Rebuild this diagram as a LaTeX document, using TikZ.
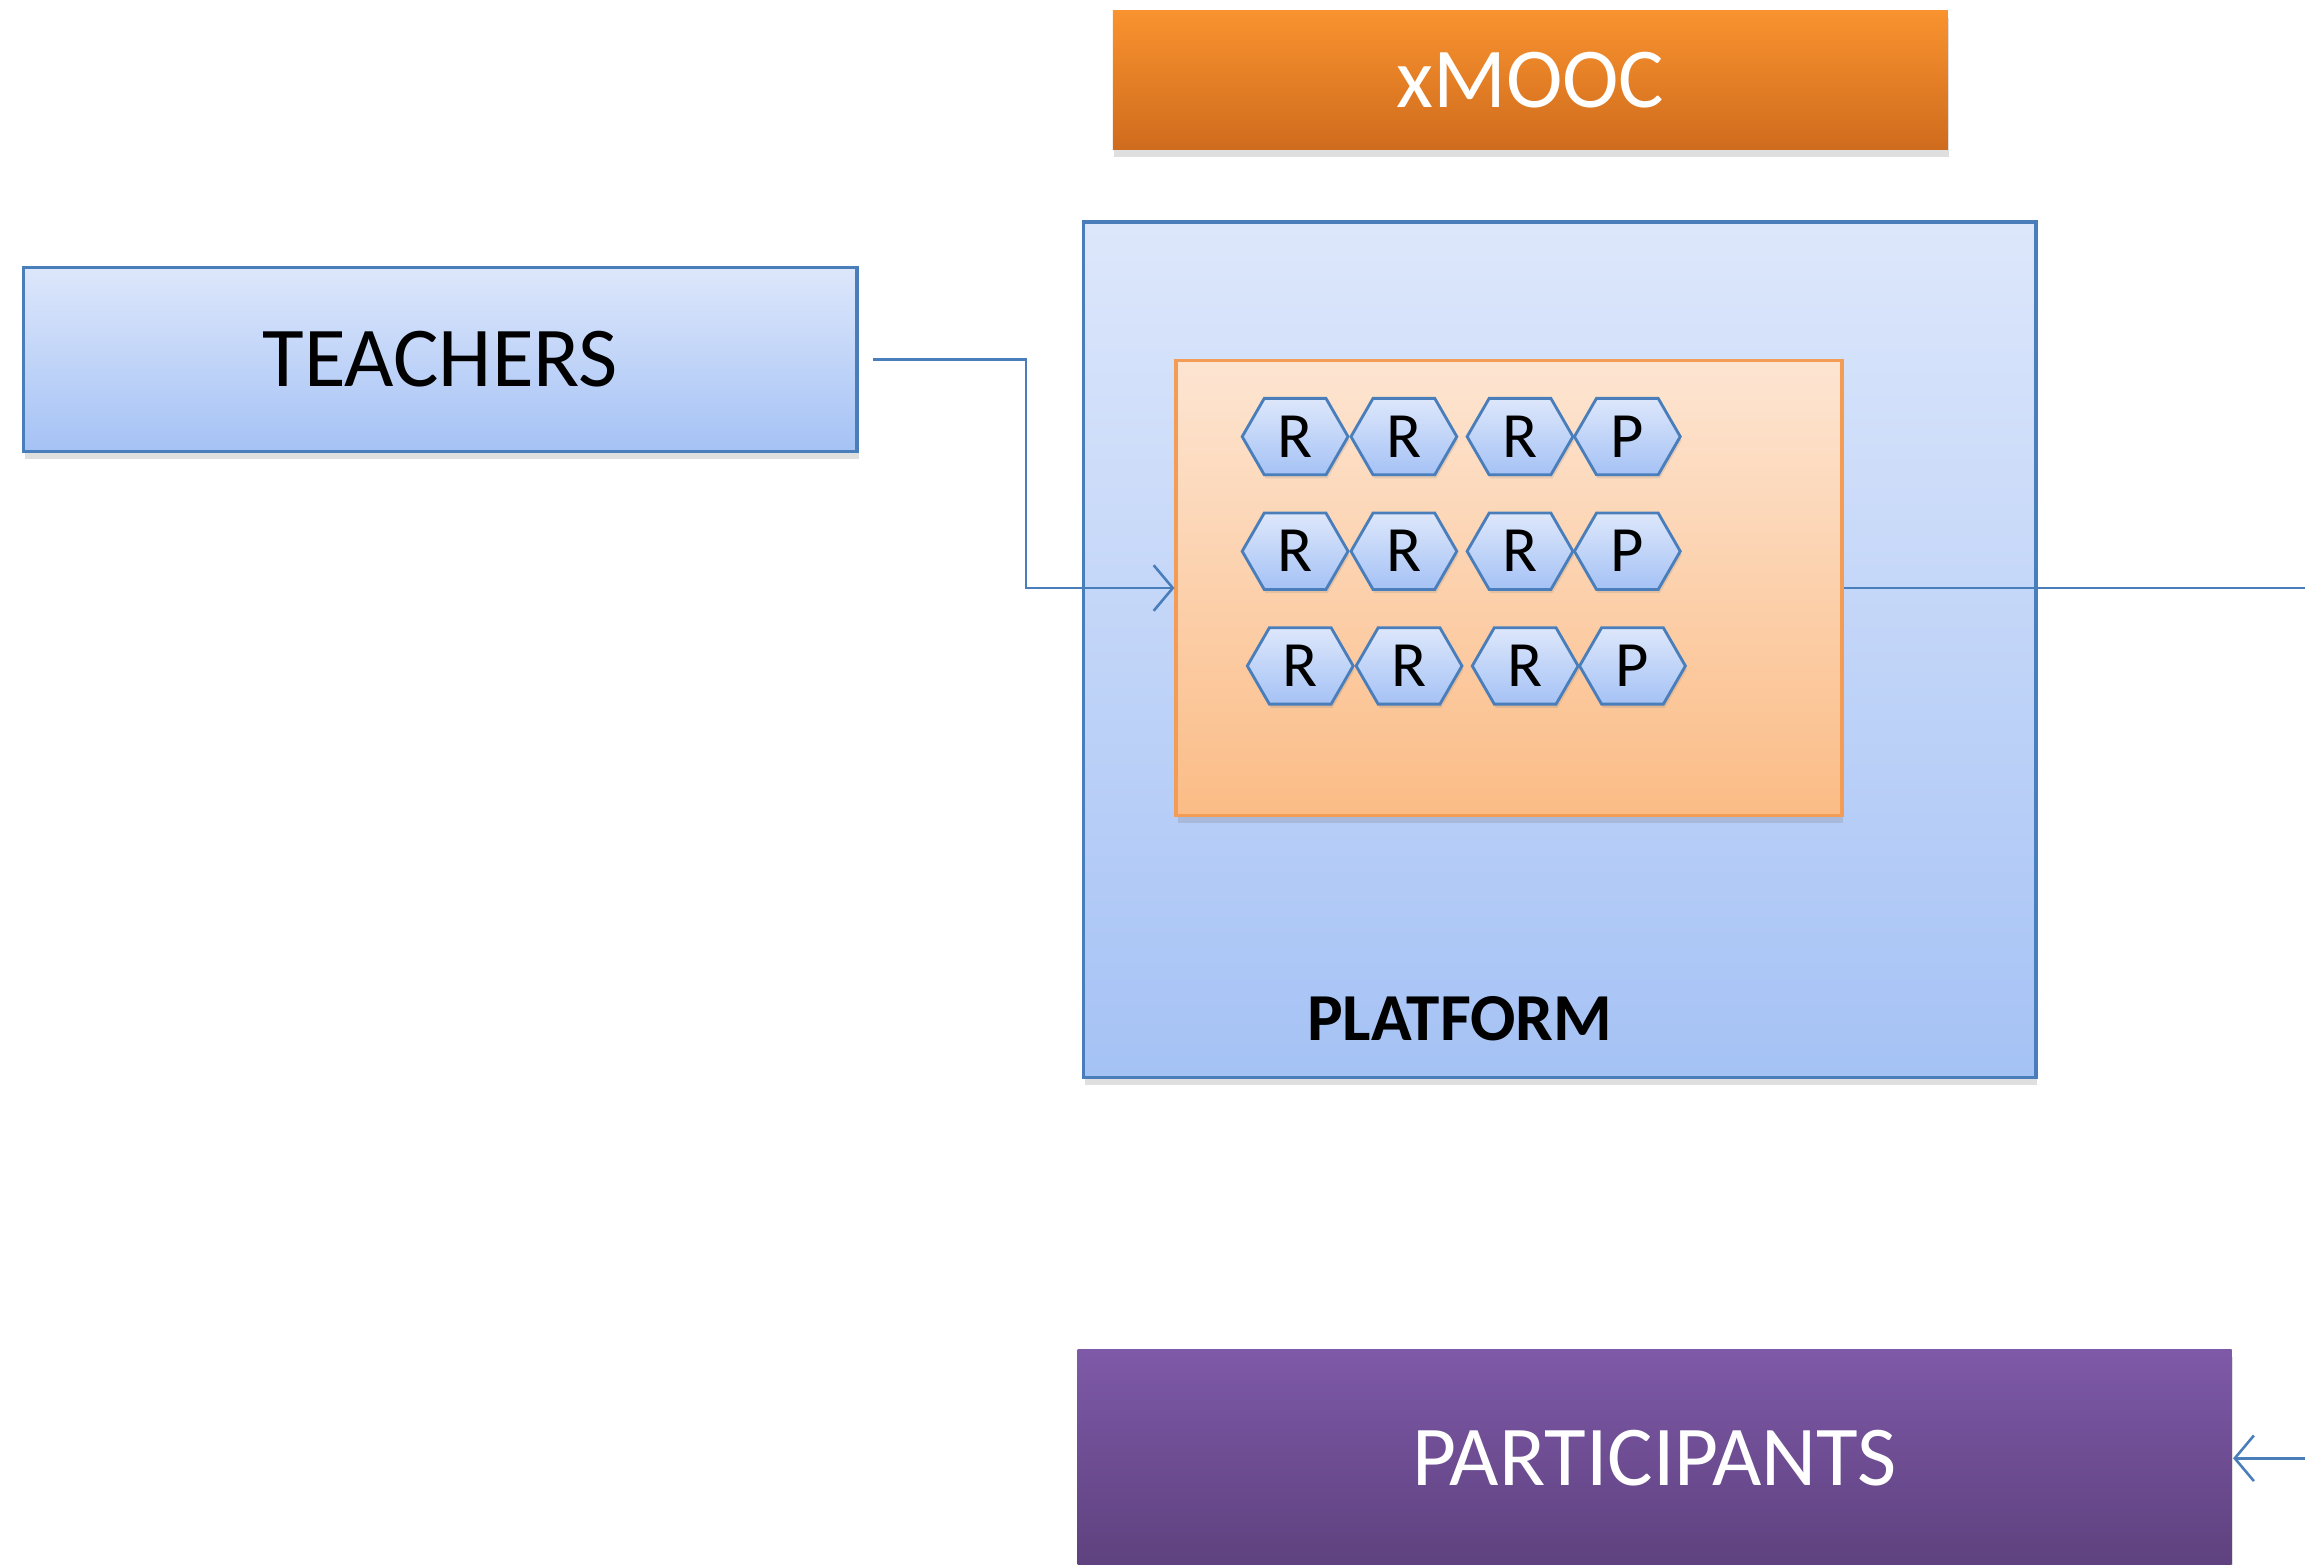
\documentclass[tikz,border=0pt]{standalone}
\usepackage{fontspec}
\setmainfont{Carlito}
\usetikzlibrary{arrows, positioning, calc, arrows.meta, shapes.symbols, shadows}
\definecolor{bluetop}{HTML}{DDE7FB}
\definecolor{bluebot}{HTML}{A5C2F5}
\definecolor{blueline}{HTML}{4A7EBB}
\definecolor{orangetop}{HTML}{FDE5D2}
\definecolor{orangebot}{HTML}{FBBC86}
\definecolor{orangeline}{HTML}{F29C55}
\definecolor{mooctop}{HTML}{F9932F}
\definecolor{moocbot}{HTML}{CF6B1D}
\definecolor{parttop}{HTML}{7E59A8}
\definecolor{partbot}{HTML}{5E417E}
\tikzset{
    %Define style for boxes
    boks/.style={
           rectangle,
           draw=blueline, line width=1.2pt,
           top color=bluetop, bottom color=bluebot,
           drop shadow={opacity=0.25, shadow xshift=0.02cm, shadow yshift=-0.1cm},
           font=\fontsize{33}{40}\selectfont,
           inner sep=0pt},
    % Define style for the small hexagons
    hex/.style={
           signal, signal to=west and east, signal pointer angle=120,
           draw=blueline, line width=1.1pt,
           top color=bluetop, bottom color=bluebot,
           drop shadow={opacity=0.2, shadow xshift=0.02cm, shadow yshift=-0.05cm},
           minimum width=1.44cm, minimum height=1.04cm,
           inner sep=0pt,
           font=\fontsize{25}{28}\selectfont},
    % Define arrow style
    pil/.style={
           -{Straight Barb[length=0.26cm, width=0.62cm]},
           draw=blueline,
           line width=1pt},
    lin/.style={
           -,
           draw=blueline,
           line width=1pt}
}
\begin{document}
\begin{tikzpicture}
	\useasboundingbox (0,0) rectangle (31.36,-21.28);
	%
	% nodes
	%
	\node[boks, minimum width=11.34cm, minimum height=2.5cm] (teach) at (5.99,-4.89) {TEACHERS};
	\node[boks, draw=none, top color=mooctop, bottom color=moocbot, text=white,
	      minimum width=11.36cm, minimum height=1.9cm] (mooc) at (20.82,-1.09) {xMOOC};
	\node[boks, minimum width=12.96cm, minimum height=11.64cm] (plat) at (21.22,-8.84) {};
	\node[font=\fontsize{26}{30}\selectfont\bfseries] (platlab) at (19.86,-13.86) {PLATFORM};
	\node[boks, draw=orangeline, top color=orangetop, bottom color=orangebot,
	      minimum width=9.06cm, minimum height=6.2cm] (course) at (20.53,-8.0) {};
	\node[boks, draw=none, top color=parttop, bottom color=partbot, text=white,
	      minimum width=15.7cm, minimum height=2.96cm] (part) at (22.51,-19.84) {PARTICIPANTS};
	%
	% hexagons
	%
	\foreach \row/\y/\dx in {1/-5.94/0, 2/-7.5/0, 3/-9.06/0.07}{
	  \foreach \col/\x/\lab in {1/17.62/R, 2/19.1/R, 3/20.68/R, 4/22.14/P}{
	    \node[hex] (h\row\col) at (\x+\dx,\y) {\lab};
	  }
	}
	\coordinate (outA) at (31.36,-8.0);
	\coordinate (outB) at (31.36,-19.84);
	%
	% links
	%
	\draw[pil] ([xshift=0.2cm]teach.east) -- ++(2.08,0) |- (course.west);
	\draw[lin] (course.east) -- (outA);
	\draw[pil] (outB) -- (part.east);
\end{tikzpicture}
\end{document}
